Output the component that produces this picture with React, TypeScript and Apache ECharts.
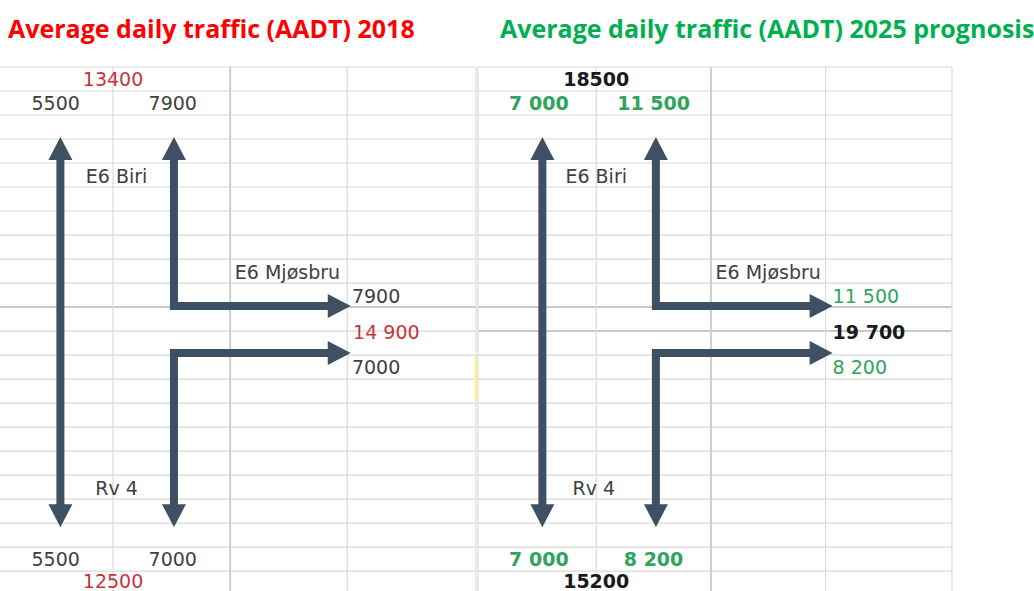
import React, { useEffect, useRef } from "react";
import * as echarts from "echarts";

// ---- Data (cell units: 1 = one spreadsheet column, rows = spreadsheet rows) ----
const TITLE_2018 = "Average daily traffic (AADT) 2018";
const TITLE_2025 = "Average daily traffic (AADT) 2025 prognosis";

const COL_EDGES_2018 = [0, 1, 2, 3, 4.1];
const COL_EDGES_2025 = [0, 1.01, 1.99, 2.97, 4.05];
const ROW_LINES = 22;
const ROW_SPAN = 21.83;
const HEAVY_ROWS_2018 = [10];
const HEAVY_ROWS_2025 = [10, 11];
const HEAVY_COLS = [2];

// arrow polylines (heads at both ends)
const ARROWS: number[][][] = [
  [[0.55, 2.92], [0.55, 19.17]],
  [[1.52, 2.92], [1.52, 9.96], [3.03, 9.96]],
  [[3.03, 11.92], [1.52, 11.92], [1.52, 19.17]],
];

// [text, col, row, align, colour, bold]
type Lbl = [string, number, number, string, string, boolean];
const LABELS_2018: Lbl[] = [
  ["13400", 1.0, 0.5, "center", "red", false],
  ["5500", 0.51, 1.5, "center", "dark", false],
  ["7900", 1.51, 1.5, "center", "dark", false],
  ["E6 Biri", 1.03, 4.54, "center", "dark", false],
  ["E6 Mjøsbru", 2.04, 8.54, "left", "dark", false],
  ["7900", 3.04, 9.54, "left", "dark", false],
  ["14 900", 3.05, 11.04, "left", "red", false],
  ["7000", 3.04, 12.5, "left", "dark", false],
  ["Rv 4", 1.03, 17.54, "center", "dark", false],
  ["5500", 0.51, 20.5, "center", "dark", false],
  ["7000", 1.51, 20.5, "center", "dark", false],
  ["12500", 1.0, 21.42, "center", "red", false],
];
const LABELS_2025: Lbl[] = [
  ["18500", 1.01, 0.5, "center", "black", true],
  ["7 000", 0.52, 1.5, "center", "green", true],
  ["11 500", 1.5, 1.5, "center", "green", true],
  ["E6 Biri", 1.01, 4.54, "center", "dark", false],
  ["E6 Mjøsbru", 2.03, 8.54, "left", "dark", false],
  ["11 500", 3.03, 9.54, "left", "green", false],
  ["19 700", 3.03, 11.04, "left", "black", true],
  ["8 200", 3.03, 12.5, "left", "green", false],
  ["Rv 4", 0.99, 17.54, "center", "dark", false],
  ["7 000", 0.52, 20.5, "center", "green", true],
  ["8 200", 1.5, 20.5, "center", "green", true],
  ["15200", 1.01, 21.42, "center", "black", true],
];
// a selected-cell marker at the panel boundary
const MARKER_2018 = [[4.1, 12.0], [4.1, 13.9]];

const COLORS: Record<string, string> = {
  dark: "#404040",
  black: "#1a1a1a",
  red: "#c8343e",
  green: "#2fa360",
};
const ARROW_COLOR = "#3e5163";
const CELL_FONT = "'DejaVu Sans', Verdana, sans-serif";

function gridRender(edges: number[], heavyRows: number[], marker: number[][] | null) {
  return (_p: any, api: any) => {
    const children: any[] = [];
    const x0 = edges[0];
    const x1 = edges[edges.length - 1];
    for (let r = 0; r < ROW_LINES; r++) {
      const a = api.coord([x0, r]);
      const b = api.coord([x1, r]);
      const heavy = heavyRows.includes(r);
      children.push({
        type: "line",
        shape: { x1: a[0], y1: a[1], x2: b[0], y2: b[1] },
        style: { stroke: heavy ? "#cacaca" : "#dadada", lineWidth: heavy ? 2 : 1.2 },
      });
    }
    edges.forEach((e, i) => {
      const a = api.coord([e, 0]);
      const b = api.coord([e, ROW_SPAN]);
      const heavy = HEAVY_COLS.includes(i);
      children.push({
        type: "line",
        shape: { x1: a[0], y1: a[1], x2: b[0], y2: b[1] },
        style: { stroke: heavy ? "#cdcdcd" : "#dadada", lineWidth: heavy ? 2 : 1.2 },
      });
    });
    if (marker) {
      const a = api.coord(marker[0]);
      const b = api.coord(marker[1]);
      children.push({
        type: "line",
        shape: { x1: a[0], y1: a[1], x2: b[0], y2: b[1] },
        style: { stroke: "#fbf07a", lineWidth: 2 },
      });
    }
    return { type: "group", children };
  };
}

function arrowRender(arrows: number[][][]) {
  const HEAD_LEN = 23;
  const HEAD_HALF = 12;
  return (params: any, api: any) => {
    const pts = arrows[params.dataIndex].map((p) => api.coord(p));
    const children: any[] = [];
    const head = (tip: number[], from: number[]) => {
      const dx = tip[0] - from[0];
      const dy = tip[1] - from[1];
      const len = Math.hypot(dx, dy) || 1;
      const ux = dx / len;
      const uy = dy / len;
      const bx = tip[0] - ux * HEAD_LEN;
      const by = tip[1] - uy * HEAD_LEN;
      children.push({
        type: "polygon",
        shape: {
          points: [
            [tip[0], tip[1]],
            [bx - uy * HEAD_HALF, by + ux * HEAD_HALF],
            [bx + uy * HEAD_HALF, by - ux * HEAD_HALF],
          ],
        },
        style: { fill: ARROW_COLOR },
      });
      return [bx + ux * 2, by + uy * 2];
    };
    const n = pts.length;
    const shaft = pts.map((p: number[]) => [p[0], p[1]]);
    shaft[0] = head(pts[0], pts[1]);
    shaft[n - 1] = head(pts[n - 1], pts[n - 2]);
    children.unshift({
      type: "polyline",
      shape: { points: shaft },
      style: { stroke: ARROW_COLOR, lineWidth: 8, fill: null, lineJoin: "miter" },
    });
    return { type: "group", children };
  };
}

function labelRender(labels: Lbl[]) {
  return (params: any, api: any) => {
    const l = labels[params.dataIndex];
    const p = api.coord([l[1], l[2]]);
    return {
      type: "text",
      x: p[0],
      y: p[1],
      style: {
        text: l[0],
        fill: COLORS[l[4]],
        font: `${l[5] ? "bold " : ""}19px ${CELL_FONT}`,
        align: l[3],
        verticalAlign: "middle",
        textAlign: l[3],
        textVerticalAlign: "middle",
      },
    };
  };
}

export default function App() {
  const ref = useRef<HTMLDivElement>(null);
  useEffect(() => {
    if (!ref.current) return;
    const chart = echarts.init(ref.current, undefined, { renderer: "svg" });
    const panel = (i: number, edges: number[], heavy: number[], labels: Lbl[], marker: number[][] | null) => [
      {
        type: "custom",
        xAxisIndex: i,
        yAxisIndex: i,
        data: [[edges[0], 0]],
        renderItem: gridRender(edges, heavy, marker),
        silent: true,
        z: 1,
      },
      {
        type: "custom",
        xAxisIndex: i,
        yAxisIndex: i,
        data: ARROWS.map((a) => a[0]),
        renderItem: arrowRender(ARROWS),
        silent: true,
        z: 2,
      },
      {
        type: "custom",
        xAxisIndex: i,
        yAxisIndex: i,
        data: labels.map((l) => [l[1], l[2]]),
        renderItem: labelRender(labels),
        silent: true,
        z: 3,
      },
    ];
    chart.setOption({
      animation: false,
      backgroundColor: "#ffffff",
      title: [
        {
          text: TITLE_2018,
          left: 3,
          top: 10,
          textStyle: { color: "#ff0000", fontWeight: "bold", fontSize: 25, fontFamily: "'Open Sans', sans-serif" },
        },
        {
          text: TITLE_2025,
          left: 495,
          top: 10,
          textStyle: { color: "#00b050", fontWeight: "bold", fontSize: 25, fontFamily: "'Open Sans', sans-serif" },
        },
      ],
      grid: [
        { left: 0, top: 67, width: 476, height: 524 },
        { left: 478, top: 67, width: 474, height: 524 },
      ],
      xAxis: [
        { type: "value", gridIndex: 0, min: 4 / 117, max: COL_EDGES_2018[4], show: false },
        { type: "value", gridIndex: 1, min: 0, max: COL_EDGES_2025[4], show: false },
      ],
      yAxis: [
        { type: "value", gridIndex: 0, min: 0, max: ROW_SPAN, inverse: true, show: false },
        { type: "value", gridIndex: 1, min: 0, max: ROW_SPAN, inverse: true, show: false },
      ],
      series: [
        ...panel(0, COL_EDGES_2018, HEAVY_ROWS_2018, LABELS_2018, MARKER_2018),
        ...panel(1, COL_EDGES_2025, HEAVY_ROWS_2025, LABELS_2025, null),
      ],
    });
    return () => chart.dispose();
  }, []);
  return (
    <div
      ref={ref}
      style={{ position: "absolute", left: 0, top: 0, width: 1034, height: 591, background: "#fff" }}
    />
  );
}
